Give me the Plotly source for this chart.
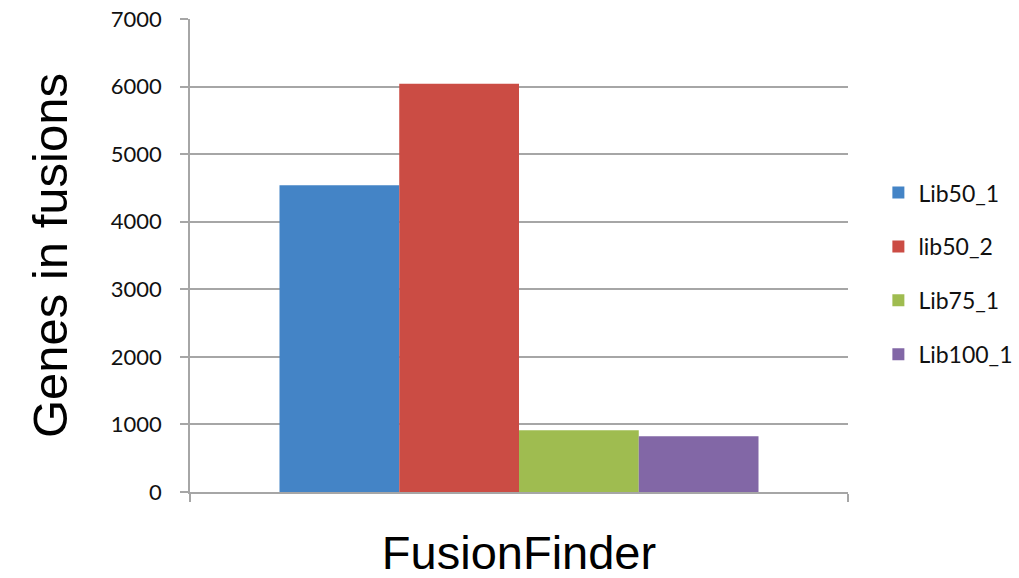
import plotly.graph_objects as go

# Data
categories = ["FusionFinder"]
series_names = ["Lib50_1", "lib50_2", "Lib75_1", "Lib100_1"]
lib50_1 = [4540]
lib50_2 = [6040]
lib75_1 = [912]
lib100_1 = [824]
series_values = [lib50_1, lib50_2, lib75_1, lib100_1]
y_ticks = [0, 1000, 2000, 3000, 4000, 5000, 6000, 7000]

colors = ["#4484c6", "#cb4c44", "#9fbc50", "#8267a6"]
grid_color = "#a6a6a6"
tick_font = dict(family="Lato, 'Open Sans', sans-serif", size=22, color="#111111")

fig = go.Figure()
for i, (name, vals) in enumerate(zip(series_names, series_values)):
    fig.add_trace(go.Bar(
        x=categories,
        y=vals,
        name=name,
        legendgroup=name,
        marker=dict(color=colors[i], line=dict(width=0)),
    ))

fig.update_layout(
    width=1019,
    height=578,
    margin=dict(l=190, r=171, t=19, b=86, autoexpand=False),
    paper_bgcolor="white",
    plot_bgcolor="white",
    barmode="group",
    bargap=0.272,
    bargroupgap=0,
    showlegend=True,
    legend=dict(
        xref="container", yref="container",
        x=0.862, y=0.704, xanchor="left", yanchor="top",
        font=dict(family="Lato, 'Open Sans', sans-serif", size=23, color="#111111"),
        tracegroupgap=21,
        bgcolor="rgba(0,0,0,0)",
    ),
    xaxis=dict(
        automargin=False,
        showline=True, linecolor=grid_color, linewidth=1.5,
        ticks="outside", ticklen=8, tickcolor=grid_color, tickwidth=1.5,
        tickson="boundaries",
        showgrid=False,
        tickfont=dict(family="Liberation Sans, Arial, sans-serif", size=47, color="#000000"),
        ticklabelstandoff=19,
    ),
    yaxis=dict(
        automargin=False,
        range=[0, 7000],
        tickvals=y_ticks,
        showline=True, linecolor=grid_color, linewidth=1.5,
        ticks="outside", ticklen=8, tickcolor=grid_color, tickwidth=1.5,
        showgrid=True, gridcolor=grid_color, gridwidth=1.5,
        zeroline=False,
        tickfont=tick_font,
        ticklabelstandoff=14,
        title=dict(
            text="Genes in fusions",
            font=dict(family="Liberation Sans, Arial, sans-serif", size=49, color="#000000"),
            standoff=28,
        ),
    ),
)

fig.write_html("out.html")
